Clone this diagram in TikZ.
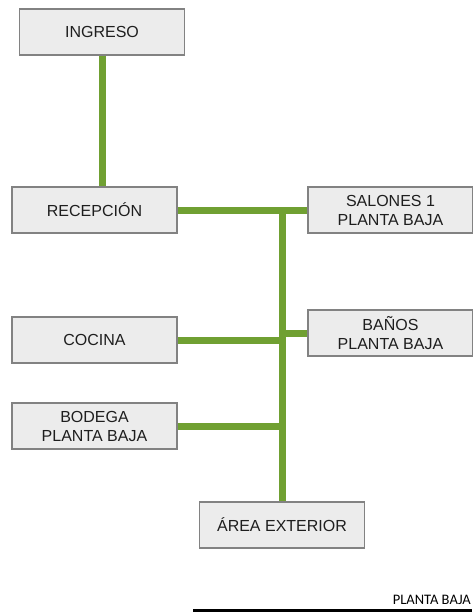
\documentclass[tikz,border=0pt]{standalone}
\usepackage{fontspec}
\setmainfont{Liberation Sans}
\newfontfamily\calibrifont{Carlito}
\usepackage{tikz}
\usetikzlibrary{positioning, calc}
\usepackage{xcolor}
\definecolor{boxfill}{RGB}{236,236,236}
\definecolor{boxline}{RGB}{130,130,130}
\definecolor{linkgreen}{RGB}{112,160,50}
\definecolor{boxtext}{RGB}{30,30,30}

\begin{document}
\begin{tikzpicture}[x=1pt, y=-1pt,
  area/.style={draw=boxline, fill=boxfill, line width=1.6pt, minimum width=165pt,
    minimum height=46pt, align=center, inner sep=0pt, text=boxtext,
    font=\fontsize{16}{19}\selectfont},
  link/.style={linkgreen, line width=7pt}]
  \useasboundingbox (0,0) rectangle (472,613);
  % links go first, boxes on top
  \path (102,32) coordinate (ingpos)
        (94.5,210) coordinate (recpos)
        (390.5,210) coordinate (salpos)
        (390.5,333) coordinate (banpos)
        (94.5,340) coordinate (cocpos)
        (94.5,426) coordinate (bodpos)
        (282,525) coordinate (arepos);
  % rooms
  \node[area] (ingreso) at (ingpos) {INGRESO};
  \node[area] (recepcion) at (recpos) {RECEPCIÓN};
  \node[area] (salones) at (salpos) {SALONES 1\\PLANTA BAJA};
  \node[area] (banos) at (banpos) {BAÑOS\\PLANTA BAJA};
  \node[area] (cocina) at (cocpos) {COCINA};
  \node[area] (bodega) at (bodpos) {BODEGA\\PLANTA BAJA};
  \node[area] (exterior) at (arepos) {ÁREA EXTERIOR};
  % trunk
  \coordinate (trunktop) at (exterior.north |- recepcion.east);
  \draw[link] (ingreso.south) -- (ingreso.south |- recepcion.north);
  \draw[link] (recepcion.east) -- (salones.west);
  \draw[link] ([yshift=-3.5pt]trunktop) -- (exterior.north);
  \draw[link] (banos.west) -- (banos.west -| trunktop);
  \draw[link] (cocina.east) -- (cocina.east -| trunktop);
  \draw[link] (bodega.east) -- (bodega.east -| trunktop);
  % title
  \node[anchor=base east, inner sep=0pt, font=\calibrifont\fontsize{14.5}{17}\selectfont] (title) at (471,604) {PLANTA BAJA};
  \coordinate (rulestart) at (193,610.5);
  \coordinate (ruleend) at (472,610.5);
  \draw[line width=2.5pt] (rulestart) -- (ruleend);
\end{tikzpicture}
\end{document}
